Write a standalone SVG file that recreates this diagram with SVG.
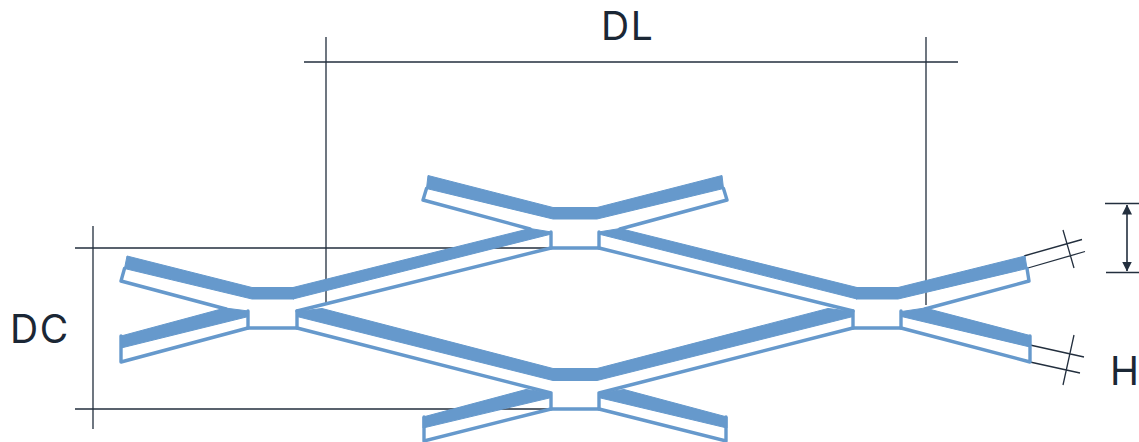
<svg xmlns="http://www.w3.org/2000/svg" width="1139" height="442" viewBox="0 0 1139 442">
<style>
.dim{stroke:#232f3e;stroke-width:1.3;fill:none}
.thick{fill:#6699cc;stroke:#6699cc;stroke-width:1;stroke-linejoin:round}
.thin{fill:none;stroke:#6699cc;stroke-width:3.400;stroke-linejoin:round;stroke-linecap:round}
.lbl{font-family:"Inter","Liberation Sans",sans-serif;font-size:39px;fill:#1b2735;letter-spacing:1.500px}
</style>
<defs>
<marker id="ah" viewBox="0 0 10 10" refX="9.500" refY="5" markerWidth="10" markerHeight="12" markerUnits="userSpaceOnUse" orient="auto-start-reverse"><path d="M0 0L10 5L0 10z" fill="#232f3e"/></marker>
</defs>
<g id="connectors">
<path class="dim" d="M304 62H958M326 37V304M926 37V305"/>
<path class="dim" d="M75 248H551M75 409H551M93 226V429"/>
<path class="dim" d="M1105 203.500H1139M1106 272.500H1139"/>
<path class="dim" d="M1127 205V271" marker-start="url(#ah)" marker-end="url(#ah)" style="stroke-width:1.6"/>
<path class="dim" d="M1024 256L1082 239.500M1028 268L1085 251.500M1063 230L1074 268"/>
<path class="dim" d="M1030 345L1084 357M1030 362L1080 373M1074 335L1063 385"/>
</g>
<g id="node-top">
<polygon class="thick" points="428,175.500 553,207.500 597,207.500 722,175.500 723.500,188.500 597,219 553,219 426.500,188.500"/>
<path class="thin" d="M426.500 188.500L423 200L530 229M723.500 188.500L727 200L620 229M551 232V248H599V232"/>
<polygon class="thick" points="293,287.500 530,228.500 551.500,232 551.500,234 293,299"/>
<polygon class="thick" points="857,287.500 620,228.500 598.500,232 598.500,234 857,299"/>
<path class="thin" d="M551 248L297 311M599 248L853 311"/>
</g>
<g id="node-left">
<polygon class="thick" points="127,256 252,287.500 294,287.500 294,299 252,299 124.500,268.500"/>
<path class="thin" d="M124.500 268.500L121 281L226 309M248 311V328H297V311"/>
<polygon class="thick" points="121,336 225,308 248.500,311 248.500,316.500 121,348"/>
<path class="thin" d="M121 336V362L248 328"/>
</g>
<g id="node-right">
<polygon class="thick" points="1025,256 898,287.500 856,287.500 856,299 898,299 1027,268.500"/>
<path class="thin" d="M1027 268.500L1029 281L925 309M853 311V328H901V311"/>
<polygon class="thick" points="1030,335.500 925,308 901.500,311.500 901.500,316.500 1030,347"/>
<path class="thin" d="M1030 336V362L901 328"/>
</g>
<g id="node-bottom">
<polygon class="thick" points="322,308.500 297,311.500 297,316.500 553,380.500 597,380.500 853,316.500 853,311.500 828,308.500 597,368.500 553,368.500"/>
<path class="thin" d="M297 328L551 393M853 328L599 393M551 393V409H599V393"/>
<polygon class="thick" points="423,417 526,389.500 551.500,393 551.500,397.500 423,428"/>
<polygon class="thick" points="727,417 624,389.500 598.500,393 598.500,397.500 727,428"/>
<path class="thin" d="M424 417V441L551 409M726 417V441L599 409"/>
</g>
<text class="lbl" x="601" y="39.500">DL</text>
<text class="lbl" x="10" y="343">DC</text>
<text class="lbl" x="1110" y="385" style="letter-spacing:0">H</text>
</svg>
